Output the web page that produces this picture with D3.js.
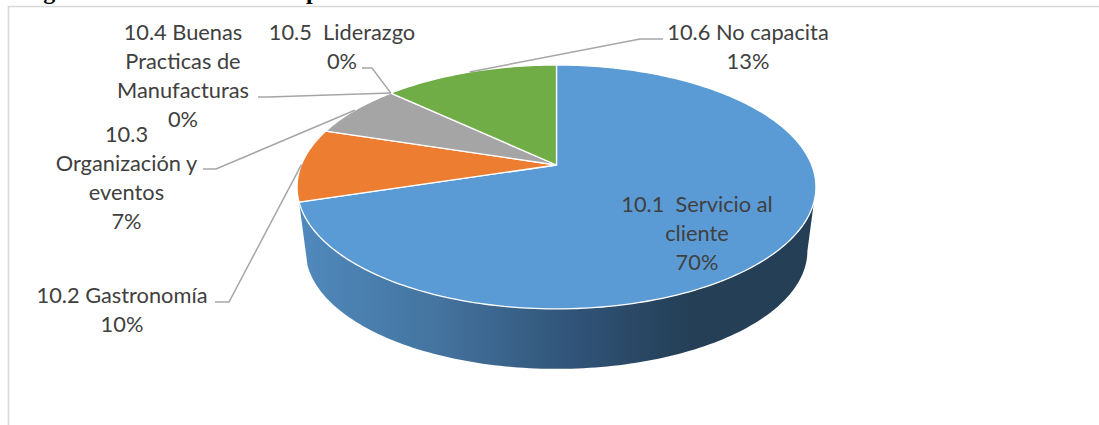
<!DOCTYPE html>
<html><head><meta charset="utf-8">
<script src="https://cdn.jsdelivr.net/npm/d3@7"></script>
<style>html,body{margin:0;padding:0;background:#fff;overflow:hidden}svg{display:block}</style>
</head><body><svg id="c" width="1099" height="425"></svg>
<script>
// ---- data ----
const categories = ["10.1  Servicio al cliente","10.2 Gastronomía","10.3 Organización y eventos","10.4 Buenas Practicas de Manufacturas","10.5  Liderazgo","10.6 No capacita"];
const values = [70.2, 9.7, 7.1, 0, 0, 13.0];
const sliceColors = ["#5b9bd5","#ed7d31","#a5a5a5","#a5a5a5","#a5a5a5","#70ad47"];
const labelLines = [
  ["10.1 \u00a0Servicio al","cliente"],
  ["10.2 Gastronomía"],
  ["10.3","Organización y","eventos"],
  ["10.4 Buenas","Practicas de","Manufacturas"],
  ["10.5 \u00a0Liderazgo"],
  ["10.6 No capacita"]
];
// ---- layout (label anchor: centre x, first baseline, leader elbow start/end) ----
const labelX = [697,122,126.5,183,342,748];
const labelY = [212,303,142,40,40,40];
const leaderStart = [null,[215,302],[203,169],[258,97],[362,68],[663,39]];
const leaderElbow = [null,[229,302],[216,169],[268,97],[372,68],[640,39]];
const lineStep = 29, fontSize = 21.8;

// ---- perspective disc ----
const cx = 556.5, apexY = 165, k = 0.18, R = 255.2, S = 118;
const baseScale = 0.967, baseApexY = 229.7;
const proj = (a, s = 1, y0 = apexY) => {
  const u = Math.sin(a), v = -Math.cos(a), d = 1 - k * v;
  return [cx + s * R * u / d, y0 + s * S * v / d];
};
const arcPts = (a0, a1, s, y0) => {
  const n = Math.max(1, Math.ceil(Math.abs(a1 - a0) / 0.02));
  return d3.range(n + 1).map(i => proj(a0 + (a1 - a0) * i / n, s, y0));
};
const line = d3.line();

const svg = d3.select("#c");
const pie = d3.pie().sort(null).value(d => d)(values);

// chart frame
svg.append("path").attr("d", d3.line()([[8.5,430],[8.5,6.5],[1105,6.5]]))
  .attr("fill","none").attr("stroke","#d9d9d9").attr("stroke-width",1.6);

// clipped heading (only descenders remain in the picture)
const head = svg.append("g").attr("font-family","'Liberation Serif',serif").attr("font-weight","bold")
  .attr("font-size",24).attr("fill","#000");
head.append("text").attr("x",22).attr("y",-1).text("Figura");
head.append("text").attr("x",306).attr("y",-1).text("p");

// side wall
const defs = svg.append("defs");
const grad = defs.append("linearGradient").attr("id","side").attr("gradientUnits","userSpaceOnUse")
  .attr("x1",300).attr("x2",690).attr("y1",0).attr("y2",0);
[[0,"#5089bd"],[0.35,"#44749f"],[0.68,"#32557a"],[1,"#243f56"]].forEach(s =>
  grad.append("stop").attr("offset",s[0]).attr("stop-color",s[1]));
const blue = pie[0];
const sideStart = Math.PI / 2 + Math.asin(k);
const sideTop = arcPts(sideStart, blue.endAngle, 1, apexY);
const sideBot = arcPts(sideStart, blue.endAngle, baseScale, baseApexY);
svg.append("path").attr("d", line(sideTop.concat(sideBot.reverse())) + "Z").attr("fill","url(#side)");

// top face
svg.append("g").selectAll("path").data(pie.filter(d => d.value > 0)).join("path")
  .attr("d", d => line([[cx, apexY]].concat(arcPts(d.startAngle, d.endAngle, 1, apexY))) + "Z")
  .attr("fill", d => sliceColors[d.index])
  .attr("stroke","#fff").attr("stroke-width",1.3).attr("stroke-linejoin","round");

// leader lines
svg.append("g").selectAll("path").data(pie.filter(d => leaderStart[d.index])).join("path")
  .attr("d", d => line([leaderStart[d.index], leaderElbow[d.index], proj((d.startAngle + d.endAngle) / 2)]))
  .attr("fill","none").attr("stroke","#a6a6a6").attr("stroke-width",1.5);

// labels
const fmt = d3.format(".0%");
const total = d3.sum(values);
const lab = svg.append("g").attr("font-family","Lato,sans-serif").attr("font-size",fontSize)
  .attr("fill","#404040").attr("text-anchor","middle");
categories.forEach((c,i) => {
  labelLines[i].concat([fmt(values[i] / total)]).forEach((t,j) => {
    lab.append("text").attr("x",labelX[i]).attr("y",labelY[i] + j * lineStep).text(t);
  });
});
</script></body></html>
